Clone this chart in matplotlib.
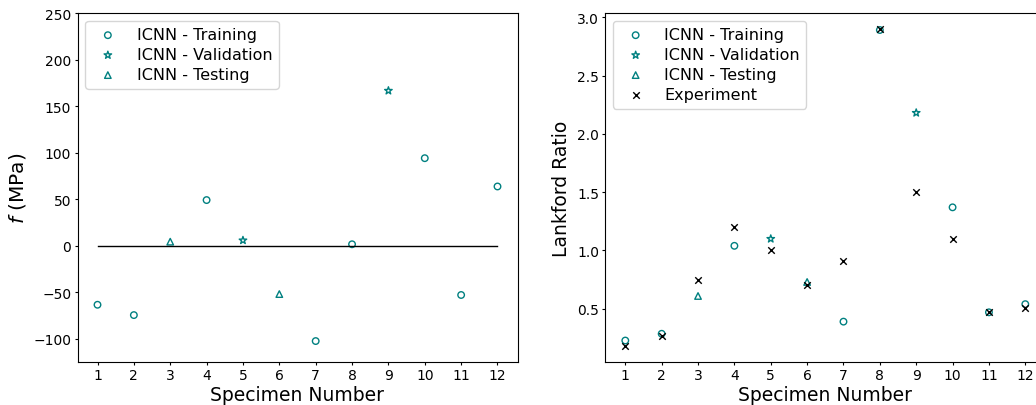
import matplotlib
matplotlib.use("Agg")
import matplotlib.pyplot as plt
import numpy as np

# ---- data ----
specimens = list(range(1, 13))

# left panel: f (MPa)
f_train_x = [1, 2, 4, 7, 8, 10, 11, 12]
f_train_y = [-63.5, -74.6, 49, -102.5, 1.5, 94, -53, 63.6]
f_val_x = [5, 9]
f_val_y = [5.7, 166.5]
f_test_x = [3, 6]
f_test_y = [4.3, -52]

# right panel: Lankford ratio
r_train_x = [1, 2, 4, 7, 8, 10, 11, 12]
r_train_y = [0.228, 0.286, 1.04, 0.39, 2.89, 1.37, 0.47, 0.54]
r_val_x = [5, 9]
r_val_y = [1.10, 2.18]
r_test_x = [3, 6]
r_test_y = [0.61, 0.73]
r_exp_y = [0.18, 0.27, 0.75, 1.2, 1.0, 0.70, 0.91, 2.9, 1.5, 1.10, 0.47, 0.51]

color = "teal"
ms = 22

fig = plt.figure(figsize=(10.36, 4.06), dpi=100)
W, H = 1036, 406
ax1 = fig.add_axes([77.5 / W, (H - 363) / H, 440 / W, 349 / H])
ax2 = fig.add_axes([605.3 / W, (H - 363) / H, 440 / W, 349 / H])

leg_kw = dict(loc="upper left", fontsize=11.5, labelspacing=0.31)
tick_kw = dict(labelsize=10, length=2.5, pad=2)

# left
ax1.scatter(f_train_x, f_train_y, s=ms, facecolors="none", edgecolors=color, linewidths=1, marker="o", label="ICNN - Training")
ax1.scatter(f_val_x, f_val_y, s=ms + 10, facecolors="none", edgecolors=color, linewidths=1, marker="*", label="ICNN - Validation")
ax1.scatter(f_test_x, f_test_y, s=ms, facecolors="none", edgecolors=color, linewidths=1, marker="^", label="ICNN - Testing")
ax1.plot([specimens[0], specimens[-1]], [0, 0], color="black", lw=1)
ax1.set_ylim(-125, 250)
ax1.set_xticks(specimens)
ax1.tick_params(**tick_kw)
ax1.set_xlabel("Specimen Number", fontsize=13.5, labelpad=2)
ax1.set_ylabel("$f$ (MPa)", fontsize=14.5, labelpad=4)
ax1.legend(**leg_kw)

# right
ax2.scatter(r_train_x, r_train_y, s=ms, facecolors="none", edgecolors=color, linewidths=1, marker="o", label="ICNN - Training")
ax2.scatter(r_val_x, r_val_y, s=ms + 10, facecolors="none", edgecolors=color, linewidths=1, marker="*", label="ICNN - Validation")
ax2.scatter(r_test_x, r_test_y, s=ms, facecolors="none", edgecolors=color, linewidths=1, marker="^", label="ICNN - Testing")
ax2.scatter(specimens, r_exp_y, s=ms, color="black", linewidths=1, marker="x", label="Experiment")
ax2.set_xticks(specimens)
ax2.set_yticks([0.5, 1.0, 1.5, 2.0, 2.5, 3.0])
ax2.tick_params(**tick_kw)
ax2.set_xlabel("Specimen Number", fontsize=13.5, labelpad=2)
ax2.set_ylabel("Lankford Ratio", fontsize=13.5, labelpad=4)
ax2.legend(**leg_kw)

fig.savefig("out.png", dpi=100)
